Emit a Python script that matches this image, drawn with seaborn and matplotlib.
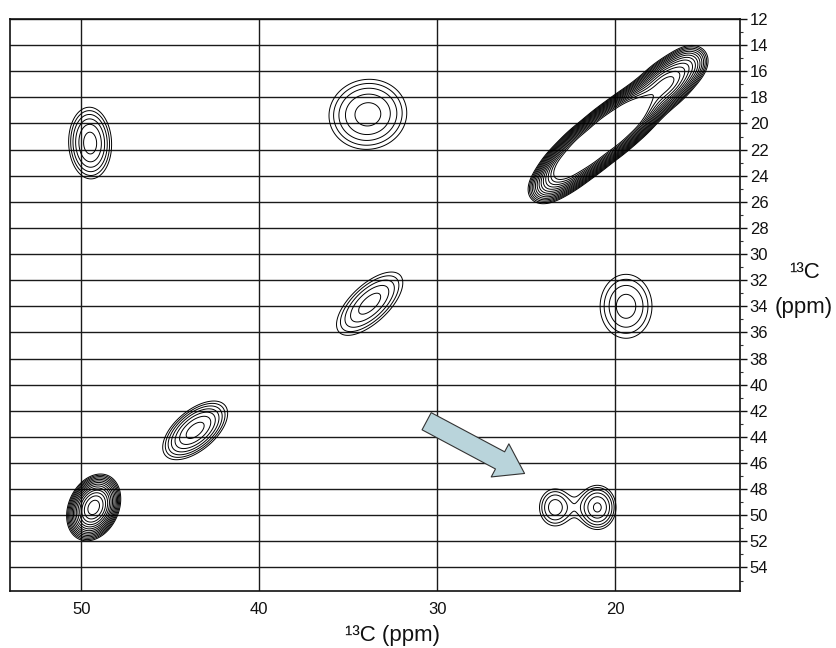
import numpy as np
import seaborn as sns
import matplotlib.pyplot as plt
from matplotlib.ticker import FixedLocator

# --- Picos del espectro 2D 13C-13C (ppm) ---
# centro, intensidad relativa, anchuras (eje mayor / menor) y ángulo del elipse
peak_x = [49.5, 33.9, 33.8, 43.6, 49.3, 19.4, 23.4, 21.0,
          23.7, 22.7, 21.6, 20.4, 19.3, 18.2, 17.1, 16.0]
peak_y = [21.5, 19.3, 33.8, 43.5, 49.4, 34.0, 49.4, 49.4,
          24.6, 23.3, 22.0, 20.7, 19.5, 18.2, 16.9, 15.6]
peak_amp = [2.73, 2.27, 2.27, 3.27, 12.0, 1.89, 1.93, 2.58,
            4, 14, 24, 27, 20, 7, 8, 4]
peak_sig_major = [1.42, 1.71, 1.83, 1.42, 0.88, 1.59, 0.90, 0.90,
                  0.79, 0.79, 0.79, 0.79, 0.79, 0.79, 0.79, 0.79]
peak_sig_minor = [0.85, 1.53, 0.83, 0.73, 0.63, 1.29, 0.75, 0.75,
                  0.56, 0.56, 0.56, 0.56, 0.56, 0.60, 0.60, 0.60]
peak_angle = [92, 10, 43, 40, 65, 90, 90, 90,
              40, 40, 40, 40, 40, 40, 40, 40]

# niveles de contorno (escala geométrica)
n_levels = 14
level_factor = 1.2

x_major_ticks = [50, 40, 30, 20]
y_major_ticks = list(range(12, 55, 2))

# flecha señalando el pico nuevo
arrow_start = (30.6, 42.8)
arrow_end = (25.1, 46.8)

# --- Malla y campo de intensidades ---
x_lim = (54.0, 13.0)
y_lim = (55.8, 12.0)
aspect_y = 13.07 / 17.83  # escala vertical relativa (px por ppm)

xg = np.linspace(13.0, 54.0, 800)
yg = np.linspace(12.0, 55.8, 800)
X, Y = np.meshgrid(xg, yg)
Z = np.zeros_like(X)
for x0, y0, amp, sM, sm, ang in zip(peak_x, peak_y, peak_amp,
                                     peak_sig_major, peak_sig_minor, peak_angle):
    t = np.deg2rad(ang)
    du = X - x0
    dv = (Y - y0) * aspect_y
    a = du * np.cos(t) + dv * np.sin(t)
    b = -du * np.sin(t) + dv * np.cos(t)
    Z += amp * np.exp(-(a ** 2 / (2 * sM ** 2) + b ** 2 / (2 * sm ** 2)))

levels = level_factor ** np.arange(n_levels)

# --- Figura ---
sns.set_theme(style="white")
plt.rcParams['font.family'] = ['Liberation Sans', 'DejaVu Sans']

fig = plt.figure(figsize=(8.37, 6.48), dpi=100)
ax = fig.add_axes([10 / 837, 1 - 591 / 648, 730 / 837, 572 / 648])

ax.contour(X, Y, Z, levels=levels, colors='black', linewidths=0.7)

ax.set_xlim(*x_lim)
ax.set_ylim(*y_lim)

ax.xaxis.set_major_locator(FixedLocator(x_major_ticks))
ax.xaxis.set_minor_locator(FixedLocator(list(range(13, 55))))
ax.yaxis.set_major_locator(FixedLocator(y_major_ticks))
ax.yaxis.set_minor_locator(FixedLocator(list(range(13, 56, 2))))
ax.yaxis.tick_right()

ax.tick_params(axis='x', which='major', direction='inout', length=6, width=1,
               labelsize=12, pad=5, colors='#111111')
ax.tick_params(axis='x', which='minor', direction='in', length=3, width=0.8,
               colors='#333333')
ax.tick_params(axis='y', which='major', direction='out', length=5, width=1,
               labelsize=12, pad=2, colors='#111111')
ax.tick_params(axis='y', which='minor', direction='out', length=2.5, width=0.8,
               colors='#333333')

ax.grid(True, which='major', color='#1a1a1a', linewidth=1.0)
for side in ax.spines.values():
    side.set_color('#111111')
    side.set_linewidth(1.2)

ax.annotate('', xy=arrow_end, xytext=arrow_start,
            arrowprops=dict(arrowstyle='simple,head_width=2.7,head_length=2.0,tail_width=1.4',
                            mutation_scale=10, facecolor='#b9d4db',
                            edgecolor='#333333', linewidth=0.8,
                            shrinkA=0, shrinkB=0))

fig.text(393 / 837, 1 - 635 / 648, '¹³C (ppm)', ha='center', va='center',
         fontsize=16, color='#111111')
fig.text(805 / 837, 1 - 273 / 648, '¹³C', ha='center', va='center',
         fontsize=16, color='#111111')
fig.text(804 / 837, 1 - 308 / 648, '(ppm)', ha='center', va='center',
         fontsize=16, color='#111111')

fig.savefig('out.png', dpi=100, facecolor='white')
